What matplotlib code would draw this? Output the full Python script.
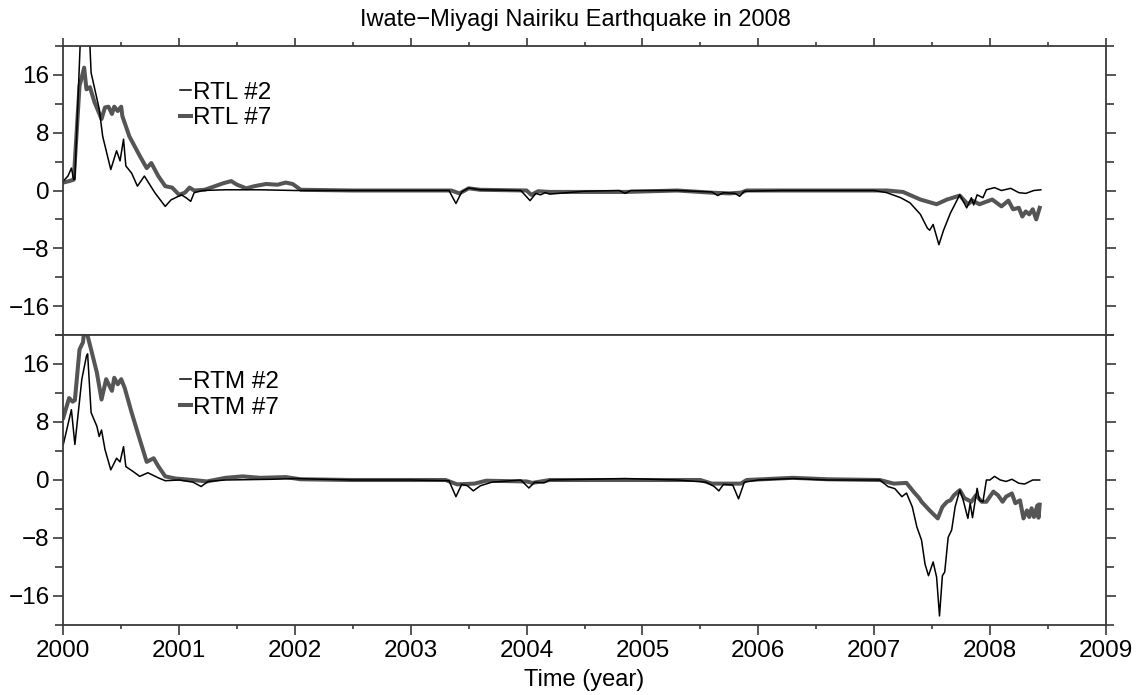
import matplotlib
matplotlib.use("Agg")
import matplotlib.pyplot as plt
from matplotlib.ticker import MultipleLocator
import numpy as np

plt.rcParams['font.family'] = ['Liberation Sans', 'DejaVu Sans']

title = "Iwate\u2212Miyagi Nairiku Earthquake in 2008"
xlabel = "Time (year)"
top_labels = ["RTL #2", "RTL #7"]
bot_labels = ["RTM #2", "RTM #7"]
year_ticks = [2000, 2001, 2002, 2003, 2004, 2005, 2006, 2007, 2008, 2009]
y_ticks = [-16, -8, 0, 8, 16]

# RTL #2 (thin)
rtl2 = [(2000.00, 1.3), (2000.04, 2.0), (2000.07, 3.1), (2000.09, 1.5), (2000.10, 1.6),
        (2000.15, 22), (2000.19, 25), (2000.23, 20), (2000.24, 16.3), (2000.31, 11.3),
        (2000.34, 7.5), (2000.41, 2.9), (2000.46, 5.5), (2000.49, 4.1), (2000.52, 7.1),
        (2000.54, 3.4), (2000.59, 2.4), (2000.64, 0.6), (2000.70, 2.0), (2000.79, -0.3),
        (2000.88, -2.2), (2000.93, -1.3), (2001.02, -0.6), (2001.06, -1.0), (2001.10, -1.5),
        (2001.13, -0.3), (2001.20, 0.0), (2001.40, 0.1), (2001.70, 0.1), (2002.00, 0.0),
        (2002.50, 0.0), (2003.00, 0.0), (2003.33, 0.0), (2003.39, -1.8), (2003.44, -0.2),
        (2003.50, 0.35), (2003.60, 0.1), (2003.95, 0.0), (2004.03, -1.4), (2004.08, -0.4),
        (2004.12, -0.6), (2004.16, -0.3), (2004.20, -0.5), (2004.50, -0.1), (2004.80, 0.0),
        (2004.85, -0.4), (2004.90, 0.0), (2005.30, 0.0), (2005.60, -0.2), (2005.65, -0.7),
        (2005.70, -0.3), (2005.80, -0.4), (2005.84, -0.8), (2005.88, -0.1), (2006.20, 0.0),
        (2006.53, 0.0), (2007.00, 0.0), (2007.11, -0.3), (2007.23, -1.0), (2007.31, -1.7),
        (2007.40, -3.3), (2007.46, -5.2), (2007.48, -5.5), (2007.51, -4.7), (2007.56, -7.5),
        (2007.60, -5.5), (2007.66, -3.1), (2007.74, -0.6), (2007.80, -2.4), (2007.84, -1.0),
        (2007.86, -2.0), (2007.89, -0.6), (2007.94, -1.0), (2007.97, 0.1), (2008.04, 0.4),
        (2008.10, 0.0), (2008.18, 0.3), (2008.25, -0.3), (2008.31, -0.4), (2008.38, 0.0),
        (2008.44, 0.1)]

# RTL #7 (thick)
rtl7 = [(2000.00, 1.1), (2000.05, 1.3), (2000.09, 1.5), (2000.14, 14.5), (2000.155, 15.4),
        (2000.18, 17.0), (2000.20, 14.0), (2000.23, 14.3), (2000.27, 12.2), (2000.33, 9.9),
        (2000.36, 11.5), (2000.39, 11.6), (2000.42, 10.6), (2000.44, 11.6), (2000.47, 11.0),
        (2000.50, 11.6), (2000.51, 10.3), (2000.57, 7.5), (2000.66, 4.8), (2000.72, 3.1),
        (2000.76, 3.8), (2000.82, 2.0), (2000.88, 0.6), (2000.94, 0.4), (2001.00, -0.6),
        (2001.05, -0.3), (2001.09, 0.4), (2001.13, 0.0), (2001.22, 0.1), (2001.31, 0.6),
        (2001.38, 1.0), (2001.45, 1.3), (2001.50, 0.8), (2001.58, 0.3), (2001.65, 0.6),
        (2001.75, 0.9), (2001.85, 0.8), (2001.92, 1.1), (2001.98, 0.9), (2002.05, 0.1),
        (2002.50, 0.0), (2003.00, 0.0), (2003.35, 0.0), (2003.42, -0.4), (2003.50, 0.3),
        (2003.60, 0.1), (2004.00, 0.0), (2004.04, -0.6), (2004.10, -0.1), (2004.20, -0.2),
        (2004.85, -0.2), (2005.30, 0.0), (2005.60, -0.3), (2005.75, -0.4), (2005.85, -0.3),
        (2005.90, 0.0), (2006.50, 0.0), (2007.11, 0.0), (2007.25, -0.2), (2007.40, -1.25),
        (2007.54, -1.9), (2007.63, -1.25), (2007.74, -0.7), (2007.81, -1.9), (2007.85, -1.4),
        (2007.91, -1.9), (2008.02, -1.25), (2008.10, -2.2), (2008.16, -1.4), (2008.20, -2.6),
        (2008.25, -2.4), (2008.28, -3.6), (2008.31, -2.9), (2008.34, -3.3), (2008.37, -2.6),
        (2008.40, -4.0), (2008.43, -2.4)]

# RTM #2 (thin)
rtm2 = [(2000.00, 4.9), (2000.07, 9.7), (2000.10, 4.9), (2000.16, 13.9), (2000.20, 17.1),
        (2000.21, 17.4), (2000.24, 9.3), (2000.29, 7.4), (2000.31, 6.0), (2000.33, 6.9),
        (2000.36, 4.2), (2000.41, 1.4), (2000.46, 3.0), (2000.49, 2.5), (2000.52, 4.6),
        (2000.54, 1.85), (2000.60, 1.2), (2000.66, 0.5), (2000.73, 1.0), (2000.82, 0.3),
        (2000.88, -0.1), (2001.00, 0.0), (2001.12, -0.3), (2001.19, -0.9), (2001.25, -0.2),
        (2001.40, 0.0), (2001.80, 0.1), (2002.00, 0.2), (2002.50, 0.0), (2003.00, 0.0),
        (2003.33, -0.1), (2003.39, -2.3), (2003.44, -0.6), (2003.49, -0.8), (2003.54, -1.5),
        (2003.60, -0.8), (2003.70, -0.3), (2003.95, 0.0), (2004.02, -1.1), (2004.07, -0.3),
        (2004.15, -0.4), (2004.20, 0.0), (2004.85, 0.2), (2005.30, 0.0), (2005.55, -0.3),
        (2005.62, -0.9), (2005.66, -1.5), (2005.70, -0.6), (2005.78, -0.7), (2005.83, -2.6),
        (2005.88, -0.3), (2006.00, 0.0), (2006.30, 0.2), (2006.60, 0.0), (2007.05, 0.0),
        (2007.12, -0.9), (2007.18, -1.2), (2007.24, -2.3), (2007.28, -1.8), (2007.33, -3.7),
        (2007.37, -6.5), (2007.41, -8.3), (2007.44, -11.6), (2007.47, -13.2), (2007.51, -11.3),
        (2007.54, -13.4), (2007.565, -18.75), (2007.59, -13.2), (2007.61, -12.7), (2007.64, -7.9),
        (2007.67, -6.9), (2007.70, -3.7), (2007.74, -1.4), (2007.77, -2.8), (2007.81, -5.3),
        (2007.83, -3.2), (2007.85, -5.2), (2007.89, -1.15), (2007.91, -2.8), (2007.94, -3.0),
        (2007.97, 0.0), (2008.00, 0.0), (2008.04, 0.5), (2008.09, 0.0), (2008.14, -0.2),
        (2008.19, 0.1), (2008.25, -0.45), (2008.30, -0.55), (2008.37, 0.0), (2008.43, 0.0)]

# RTM #7 (thick)
rtm7 = [(2000.00, 8.6), (2000.05, 11.3), (2000.08, 10.8), (2000.10, 11.0), (2000.14, 18.0),
        (2000.17, 19.0), (2000.18, 20.5), (2000.20, 20.5), (2000.24, 18.0), (2000.29, 14.8),
        (2000.33, 11.1), (2000.37, 13.9), (2000.42, 12.3), (2000.44, 14.1), (2000.47, 13.2),
        (2000.50, 13.9), (2000.53, 12.7), (2000.59, 9.3), (2000.66, 5.6), (2000.72, 2.5),
        (2000.78, 3.0), (2000.82, 1.9), (2000.88, 0.5), (2000.97, 0.2), (2001.12, 0.0),
        (2001.24, -0.2), (2001.40, 0.3), (2001.55, 0.5), (2001.70, 0.3), (2001.92, 0.4),
        (2002.05, 0.1), (2002.50, 0.0), (2003.30, 0.0), (2003.40, -0.6), (2003.55, -0.5),
        (2003.65, -0.1), (2004.00, -0.2), (2004.05, -0.4), (2004.20, 0.0), (2005.50, 0.0),
        (2005.60, -0.5), (2005.85, -0.5), (2005.90, 0.0), (2006.30, 0.3), (2006.60, 0.1),
        (2007.05, 0.0), (2007.17, -0.5), (2007.28, -0.4), (2007.34, -1.6), (2007.39, -2.5),
        (2007.41, -3.0), (2007.48, -4.2), (2007.55, -5.3), (2007.59, -3.7), (2007.63, -3.0),
        (2007.66, -2.8), (2007.69, -2.1), (2007.74, -1.4), (2007.78, -2.5), (2007.84, -3.0),
        (2007.88, -2.1), (2007.93, -3.0), (2007.97, -3.0), (2008.03, -1.6), (2008.07, -2.1),
        (2008.11, -3.0), (2008.14, -2.3), (2008.19, -1.85), (2008.22, -3.2), (2008.26, -2.8),
        (2008.29, -5.3), (2008.32, -4.2), (2008.34, -5.1), (2008.36, -3.9), (2008.38, -5.1),
        (2008.41, -3.5), (2008.42, -5.2), (2008.43, -3.4)]

W, H = 1140, 695
fig = plt.figure(figsize=(W / 100, H / 100), dpi=100)
L = 63.3 / W
Wd = (1105.7 - 63.3) / W
ax1 = fig.add_axes([L, 1 - 335 / H, Wd, (335 - 46) / H])
ax2 = fig.add_axes([L, 1 - 625 / H, Wd, (625 - 335) / H])

spine_c = '#3a3a3a'
thick_c = '#555555'
FS = 17.5
TFS = 17

for ax, thin, thick, labels in [(ax1, rtl2, rtl7, top_labels), (ax2, rtm2, rtm7, bot_labels)]:
    tk = np.array(thick)
    tn = np.array(thin)
    h7, = ax.plot(tk[:, 0], tk[:, 1], color=thick_c, lw=2.9, solid_joinstyle='round')
    h2, = ax.plot(tn[:, 0], tn[:, 1], color='black', lw=1.1, solid_joinstyle='round')
    ax.set_xlim(2000, 2009)
    ax.set_ylim(-20, 20)
    ax.set_yticks(y_ticks)
    ax.set_yticklabels([str(t).replace('-', '\u2212') for t in y_ticks], fontsize=FS)
    ax.yaxis.set_minor_locator(MultipleLocator(4))
    ax.set_xticks(year_ticks)
    ax.xaxis.set_minor_locator(MultipleLocator(0.5))
    for s in ax.spines.values():
        s.set_color(spine_c)
        s.set_linewidth(1.3)
    ax.tick_params(axis='y', which='major', direction='out', length=7, width=1.2,
                   color=spine_c, left=True, right=True, labelleft=True, labelright=False, pad=3)
    ax.tick_params(axis='y', which='minor', direction='out', length=6, width=1.2,
                   color=spine_c, left=True, right=True)
    ax.legend([h2, h7], labels, loc='upper left', bbox_to_anchor=(0.112, 0.877),
              frameon=False, fontsize=FS, handlelength=0.45, handletextpad=0.1,
              labelspacing=0.16, borderpad=0, borderaxespad=0)

ax1.tick_params(axis='x', which='major', direction='out', length=6, width=1.2, color=spine_c,
                top=True, bottom=False, labelbottom=False, labeltop=False)
ax1.tick_params(axis='x', which='minor', direction='out', length=3, width=1.2, color=spine_c,
                top=True, bottom=False)
ax2.tick_params(axis='x', which='major', direction='out', length=7, width=1.2, color=spine_c,
                top=False, bottom=True, labelbottom=True, labelsize=FS, pad=4)
ax2.tick_params(axis='x', which='minor', direction='out', length=3, width=1.2, color=spine_c,
                top=False, bottom=True)

fig.text(575 / W, 1 - 20 / H, title, ha='center', va='center', fontsize=TFS)
fig.text(584 / W, 1 - 680 / H, xlabel, ha='center', va='center', fontsize=TFS)

fig.savefig('out.png', dpi=100)
